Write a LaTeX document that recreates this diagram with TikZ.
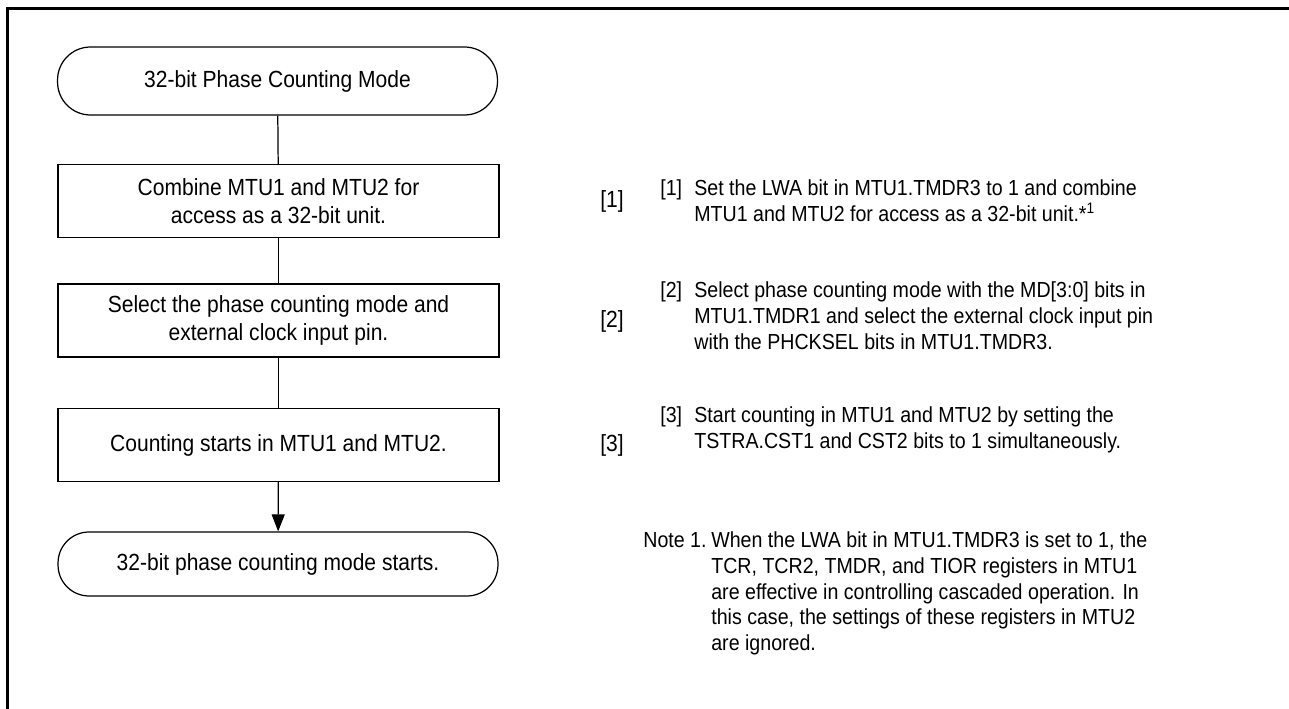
\documentclass[tikz,border=0pt]{standalone}
\usepackage{fontspec}
\setmainfont{Liberation Sans}
\newfontfamily\flowfont[FakeStretch=0.9]{Liberation Sans}
\usetikzlibrary{arrows.meta,positioning}

\begin{document}
\begin{tikzpicture}[
  x=.02cm,y=-.02cm,>={Triangle[length=.34cm,width=.26cm]},
  every node/.style={font=\flowfont},
  stepfont/.style={font=\flowfont\fontsize{13.3pt}{16pt}\selectfont},
  terminal/.style={draw,line width=.7pt,
    minimum width=8.8cm,inner sep=0pt,align=center,stepfont},
  process/.style={draw,line width=.7pt,minimum width=8.82cm,
    minimum height=1.46cm,inner sep=0pt,align=center,stepfont},
  flow/.style={draw,line width=.7pt},
  tag/.style={inner sep=0pt,stepfont},
  note/.style={anchor=north west,inner sep=0pt,
    font=\flowfont\fontsize{12.4pt}{14.7pt}\selectfont}
]
\useasboundingbox (0,0) rectangle (1289,709);
% Page frame, cut off at the right and at the bottom.
\draw[line width=.06cm] (7.5,709)--(7.5,8.5)--(1289,8.5);
% Flow of the procedure.
\node[terminal,minimum height=1.36cm,rounded corners=.66cm] (start)
  at (277.5,81) {32-bit Phase Counting Mode};
\node[process] (combine) at (278.5,201)
  {Combine MTU1 and MTU2 for\\access as a 32-bit unit.};
\node[process] (select) at (278.5,320.5)
  {Select the phase counting mode and\\external clock input pin.};
\node[process] (count) at (278.5,445)
  {Counting starts in MTU1 and MTU2.};
\node[terminal,minimum height=1.28cm,rounded corners=.62cm] (done)
  at (278,564) {32-bit phase counting mode starts.};
\draw[flow] (start)--(combine);
\draw[flow] (combine)--(select);
\draw[flow] (select)--(count);
\draw[flow,->] (count)--(done);
% Step tags beside the boxes.
\node[tag] (tag1) at (612,201) {[1]};
\node[tag] (tag2) at (612,321) {[2]};
\node[tag] (tag3) at (612,445) {[3]};
% Notes for each step.
\node[note] (note1) at (660,177)
  {\begin{tabular}{@{}p{.68cm}@{}l@{}}
   [1] & Set the LWA bit in MTU1.TMDR3 to 1 and combine\\
       & MTU1 and MTU2 for access as a 32-bit unit.*\textsuperscript{1}
   \end{tabular}};
\node[note] (note2) at (660,279)
  {\begin{tabular}{@{}p{.68cm}@{}l@{}}
   [2] & Select phase counting mode with the MD[3:0] bits in\\
       & MTU1.TMDR1 and select the external clock input pin\\
       & with the PHCKSEL bits in MTU1.TMDR3.
   \end{tabular}};
\node[note] (note3) at (660,404)
  {\begin{tabular}{@{}p{.68cm}@{}l@{}}
   [3] & Start counting in MTU1 and MTU2 by setting the\\
       & TSTRA.CST1 and CST2 bits to 1 simultaneously.
   \end{tabular}};
\node[note] (footnote) at (643,529)
  {\begin{tabular}{@{}p{1.36cm}@{}l@{}}
   Note 1. & When the LWA bit in MTU1.TMDR3 is set to 1, the\\
           & TCR, TCR2, TMDR, and TIOR registers in MTU1\\
           & are effective in controlling cascaded operation. In\\
           & this case, the settings of these registers in MTU2\\
           & are ignored.
   \end{tabular}};
\end{tikzpicture}
\end{document}
